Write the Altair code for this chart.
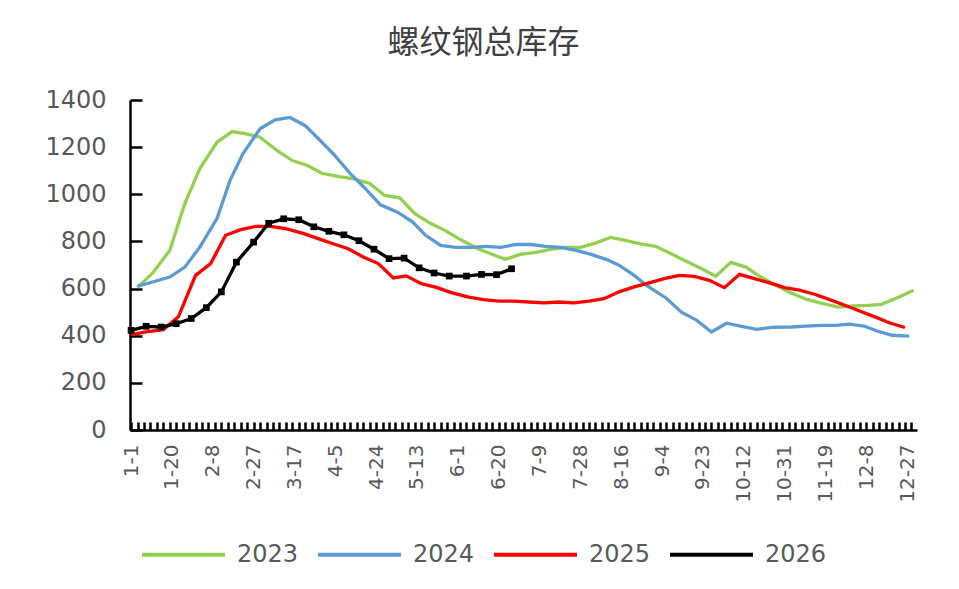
import altair as alt
import pandas as pd

years = ["2023", "2024", "2025", "2026"]
colors = ["#92D050", "#5B9BD5", "#FF0000", "#000000"]

days_2023 = [3, 10, 18, 25, 32, 40, 47, 53, 60, 68, 75, 82, 89, 97, 103, 111, 118, 125, 132, 139,
             146, 153, 161, 167, 174, 181, 189, 195, 202, 209, 216, 223, 230, 237, 244, 251, 258, 265,
             272, 279, 286, 293, 300, 307, 314, 321, 329, 336, 343, 349, 357, 364]
vals_2023 = [605, 665, 762, 961, 1109, 1221, 1266, 1257, 1242, 1185, 1143, 1122, 1088, 1075, 1067, 1046,
             995, 985, 918, 878, 847, 809, 770, 749, 724, 745, 755, 766, 775, 775, 793, 817, 804, 790,
             779, 749, 717, 686, 652, 711, 691, 649, 614, 581, 555, 538, 521, 526, 529, 533, 563, 593]

days_2024 = [3, 10, 18, 25, 32, 40, 46, 52, 60, 67, 74, 81, 88, 94, 102, 109, 116, 124, 131, 137,
             144, 151, 158, 165, 172, 179, 186, 193, 200, 207, 214, 221, 227, 234, 240, 249, 256, 263,
             270, 277, 284, 291, 299, 307, 314, 321, 328, 334, 341, 347, 354, 362]
vals_2024 = [610, 628, 649, 691, 776, 898, 1058, 1172, 1278, 1316, 1326, 1291, 1228, 1172, 1088, 1024,
             955, 924, 882, 826, 783, 775, 775, 779, 775, 787, 787, 779, 775, 762, 745, 724, 699, 656,
             612, 559, 500, 466, 416, 453, 440, 427, 436, 437, 441, 444, 444, 449, 441, 420, 402, 398]

days_2025 = [0, 7, 15, 22, 30, 37, 44, 51, 58, 65, 72, 80, 87, 94, 101, 108, 115, 122, 128, 135,
             142, 149, 157, 164, 171, 178, 185, 192, 199, 206, 213, 220, 227, 234, 241, 248, 255, 262,
             269, 276, 283, 290, 297, 304, 311, 318, 325, 332, 339, 346, 353, 360]
vals_2025 = [405, 416, 426, 480, 656, 706, 826, 850, 864, 864, 854, 834, 812, 790, 769, 734, 706, 645,
             654, 621, 605, 583, 564, 553, 547, 547, 543, 539, 543, 539, 547, 557, 586, 607, 624, 642,
             656, 652, 635, 604, 660, 642, 624, 604, 593, 576, 553, 529, 505, 480, 454, 435]

days_2026 = [0, 7, 14, 21, 28, 35, 42, 49, 57, 64, 71, 78, 85, 92, 99, 106, 113, 120, 127, 134,
             141, 148, 156, 163, 170, 177]
vals_2026 = [423, 440, 437, 451, 473, 519, 586, 712, 797, 877, 896, 892, 862, 843, 828, 803, 767, 727,
             729, 688, 666, 653, 653, 660, 659, 684]

xlabel_days = [0, 19, 38, 57, 76, 95, 114, 133, 152, 171, 190, 209, 228, 247, 266, 285, 304, 323, 342, 361]
xlabels = ["1-1", "1-20", "2-8", "2-27", "3-17", "4-5", "4-24", "5-13", "6-1", "6-20", "7-9", "7-28",
           "8-16", "9-4", "9-23", "10-12", "10-31", "11-19", "12-8", "12-27"]
ytick_values = [0, 200, 400, 600, 800, 1000, 1200, 1400]
xtick_days = list(range(0, 366, 3))

rows = []
for yr, ds, vs in [("2023", days_2023, vals_2023), ("2024", days_2024, vals_2024),
                   ("2025", days_2025, vals_2025), ("2026", days_2026, vals_2026)]:
    for d, v in zip(ds, vs):
        rows.append({"year": yr, "day": d, "value": v})
df = pd.DataFrame(rows)

W, H = 787, 330
xscale = alt.Scale(domain=[-0.5, 365.6], nice=False, zero=False)
yscale = alt.Scale(domain=[0, 1400], nice=False)

js_labels = "[" + ",".join("'%s'" % s for s in xlabels) + "]"
js_days = "[" + ",".join(str(d) for d in xlabel_days) + "]"
label_expr = js_labels + "[indexof(" + js_days + ", datum.value)]"

base = alt.Chart(df)

lines = base.mark_line(strokeWidth=3.3).encode(
    x=alt.X("day:Q", scale=xscale, axis=alt.Axis(
        values=xlabel_days, labelExpr=label_expr, labelAngle=270, labelAlign="right",
        labelBaseline="middle", labelFont="DejaVu Sans", labelFontSize=20, labelColor="#595959",
        ticks=False, domain=True, domainColor="#000000", domainWidth=2.5, labelPadding=14,
        title=None, grid=False, labelOverlap=False, labelFlush=False)),
    y=alt.Y("value:Q", scale=yscale, axis=alt.Axis(
        values=ytick_values, format="d", labelFont="DejaVu Sans", labelFontSize=24,
        labelColor="#595959", ticks=False, domain=True, domainColor="#000000", domainWidth=2.5,
        labelPadding=24, title=None, grid=False)),
    color=alt.Color("year:N", scale=alt.Scale(domain=years, range=colors), legend=alt.Legend(
        title=None, orient="none", direction="horizontal", legendX=10, legendY=411,
        symbolType="stroke", symbolSize=6889, symbolStrokeWidth=4, labelFont="DejaVu Sans",
        labelFontSize=24, labelColor="#595959", labelOffset=10, columnPadding=11)),
    order=alt.Order("day:Q"),
)

tick_layer = base.mark_line(opacity=0).encode(
    x=alt.X("day:Q", scale=xscale, axis=alt.Axis(
        orient="top", offset=-H, values=xtick_days, labels=False, domain=False, ticks=True,
        tickSize=8, tickWidth=2.5, tickColor="#000000", title=None, grid=False)),
    y=alt.Y("value:Q", scale=yscale, axis=alt.Axis(
        orient="right", offset=-W, values=ytick_values, labels=False, domain=False, ticks=True,
        tickSize=12, tickWidth=2.5, tickColor="#000000", title=None, grid=False)),
    detail="year:N",
)

squares = base.transform_filter(alt.datum.year == "2026").mark_square(
    size=45, color="#000000", opacity=1, filled=True).encode(
    x=alt.X("day:Q", scale=xscale, axis=None),
    y=alt.Y("value:Q", scale=yscale, axis=None),
)

chart = alt.layer(lines, tick_layer, squares).resolve_axis(
    x="independent", y="independent"
).properties(
    width=W, height=H,
    title=alt.TitleParams("螺纹钢总库存", font="Noto Sans CJK SC", fontSize=32, fontWeight="normal",
                          color="#404040", anchor="middle", dx=-40, offset=28),
    autosize=alt.AutoSizeParams(type="none"),
    padding={"left": 122, "top": 92, "right": 30, "bottom": 150},
    background="white",
).configure_view(stroke=None)

chart.save("out.html", embed_options={"renderer": "svg", "actions": False})
